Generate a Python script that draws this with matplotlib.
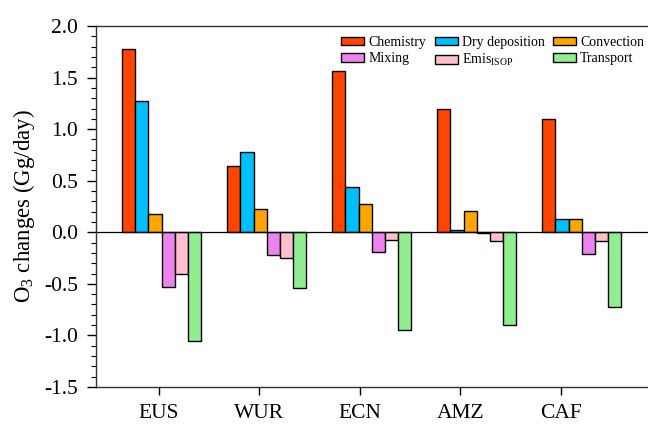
import numpy as np
import matplotlib
matplotlib.use("Agg")
import matplotlib.pyplot as plt
from matplotlib.ticker import MultipleLocator

plt.rcParams['font.family'] = ['Liberation Serif', 'DejaVu Serif']
plt.rcParams['mathtext.fontset'] = 'custom'
plt.rcParams['mathtext.rm'] = 'Liberation Serif'
plt.rcParams['mathtext.it'] = 'Liberation Serif:italic'

regions = ['EUS', 'WUR', 'ECN', 'AMZ', 'CAF']
chemistry = [1.78, 0.64, 1.56, 1.20, 1.10]
dry_dep = [1.27, 0.78, 0.44, 0.02, 0.13]
convection = [0.18, 0.23, 0.27, 0.21, 0.13]
mixing = [-0.53, -0.22, -0.19, -0.01, -0.21]
emis_isop = [-0.40, -0.25, -0.07, -0.08, -0.08]
transport = [-1.05, -0.54, -0.95, -0.90, -0.72]

series = [chemistry, dry_dep, convection, mixing, emis_isop, transport]
names = ['Chemistry', 'Dry deposition', 'Convection', 'Mixing',
         'Emis$_{\\mathrm{ISOP}}$', 'Transport']
colors = ['#FF4500', '#00BFFF', '#FFA500', '#EE82EE', '#FFC0CB', '#90EE90']

fig = plt.figure(figsize=(6.48, 4.25), dpi=100)
ax = fig.add_axes([96 / 648, 1 - 387 / 425, 552 / 648, 361 / 425])

w = 0.1315
xg = np.arange(len(regions)) * 1.046 + 0.027
bars = []
for k, (vals, c) in enumerate(zip(series, colors)):
    b = ax.bar(xg + (k - 2.5) * w, vals, w, color=c, edgecolor='black',
               linewidth=1.0, label=names[k])
    bars.append(b)

ax.axhline(0, color='black', linewidth=0.9)
ax.set_xlim(-0.627, 4.87)
ax.set_ylim(-1.5, 2.0)
ax.set_xticks(np.arange(len(regions)))
ax.set_xticklabels(regions, fontsize=15.5)
ax.yaxis.set_major_locator(MultipleLocator(0.5))
ax.yaxis.set_minor_locator(MultipleLocator(0.1))
ax.set_yticklabels(['%.1f' % v for v in ax.get_yticks()], fontsize=15.5)
ax.tick_params(axis='y', which='major', direction='out', length=6.5, width=1, pad=6.5)
ax.tick_params(axis='y', which='minor', direction='out', length=3.5, width=0.8)
ax.tick_params(axis='x', direction='out', length=5.5, width=1, pad=7)
ax.spines['right'].set_visible(False)
for s in ['left', 'bottom', 'top']:
    ax.spines[s].set_linewidth(1.0)
    ax.spines[s].set_color('#333333')

ax.set_ylabel('O$_3$ changes (Gg/day)', fontsize=16.5, labelpad=5)

order = [0, 3, 1, 4, 2, 5]
handles = [bars[i] for i in order]
labels = [names[i] for i in order]
ax.legend(handles, labels, ncol=3, loc='upper right',
          bbox_to_anchor=(1.008, 0.996), frameon=False, fontsize=10,
          handlelength=1.65, handleheight=0.55, handletextpad=0.3,
          columnspacing=0.6, labelspacing=0.25, borderaxespad=0.2)

fig.savefig('out.png', dpi=100)
